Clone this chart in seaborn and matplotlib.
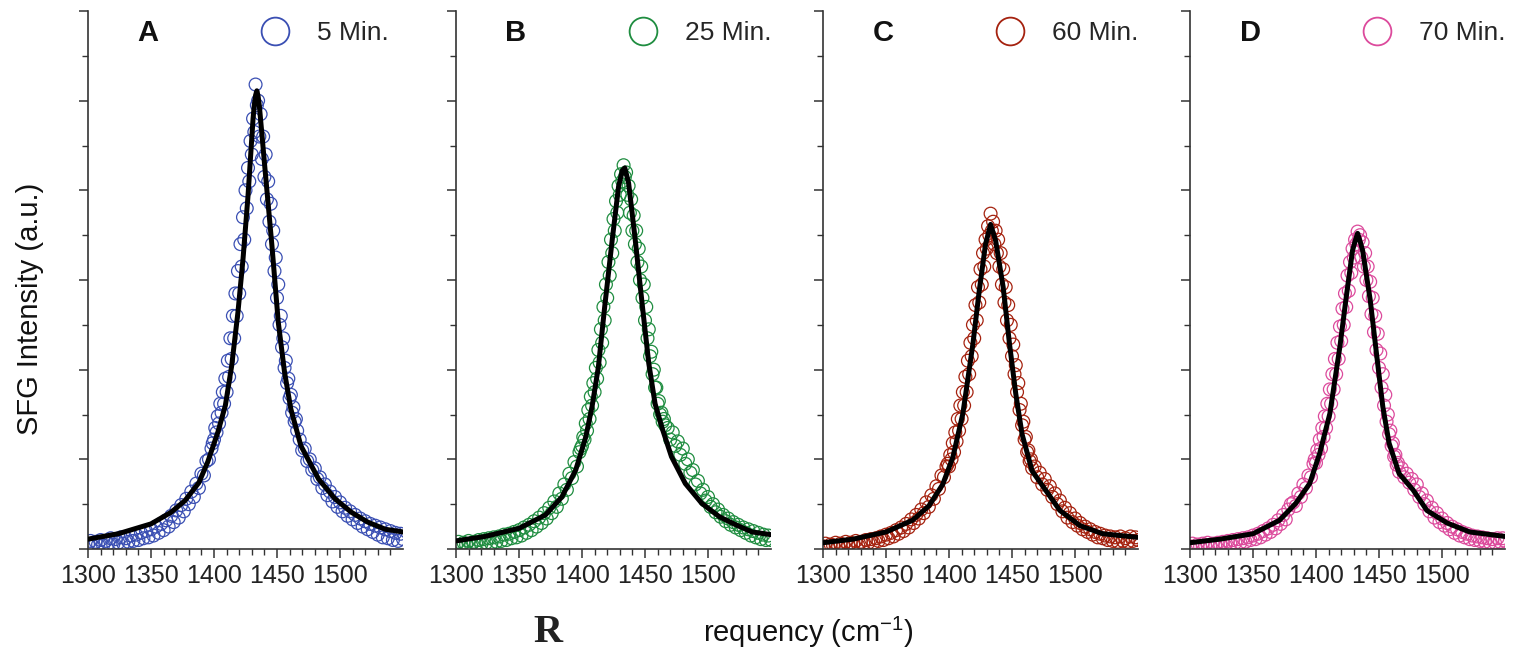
import matplotlib.pyplot as plt
from matplotlib.lines import Line2D
from matplotlib.ticker import FixedLocator, MultipleLocator
import seaborn as sns

# measured points: wavenumber (cm-1), shared by all four spectra
freq = [1300, 1302, 1304, 1306, 1308, 1310, 1312, 1314, 1316, 1318,
        1320, 1322, 1324, 1326, 1328, 1330, 1332, 1334, 1336, 1338,
        1340, 1342, 1344, 1346, 1348, 1350, 1352, 1354, 1356, 1358,
        1360, 1362, 1364, 1366, 1368, 1370, 1372, 1374, 1376, 1378,
        1380, 1382, 1384, 1386, 1388, 1390, 1392, 1394, 1396, 1398,
        1399, 1400, 1401, 1402, 1403, 1404, 1405, 1406, 1407, 1408,
        1409, 1410, 1411, 1412, 1413, 1414, 1415, 1416, 1417, 1418,
        1419, 1420, 1421, 1422, 1423, 1424, 1425, 1426, 1427, 1428,
        1429, 1430, 1431, 1432, 1433, 1434, 1435, 1436, 1437, 1438,
        1439, 1440, 1441, 1442, 1443, 1444, 1445, 1446, 1447, 1448,
        1449, 1450, 1451, 1452, 1453, 1454, 1455, 1456, 1457, 1458,
        1459, 1460, 1461, 1462, 1463, 1464, 1465, 1466,
        1468, 1470, 1472, 1474, 1476, 1478, 1480, 1482, 1484, 1486,
        1488, 1490, 1492, 1494, 1496, 1498, 1500, 1502, 1504, 1506,
        1508, 1510, 1512, 1514, 1516, 1518, 1520, 1522, 1524, 1526,
        1528, 1530, 1532, 1534, 1536, 1538, 1540, 1542, 1544, 1546,
        1548, 1550]

sfg_5 = [.05, .09, .03, .08, .05, .10, .04, .09, .06, .12,
         .05, .11, .07, .13, .06, .12, .08, .15, .09, .16,
         .10, .18, .12, .20, .13, .22, .15, .25, .18, .28,
         .21, .32, .25, .37, .30, .43, .35, .49, .42, .56,
         .50, .64, .58, .73, .68, .84, .82, .98, 1.00, 1.12,
         1.18, 1.22, 1.35, 1.30, 1.48, 1.40, 1.62, 1.52, 1.75, 1.62,
         1.90, 1.75, 2.10, 1.92, 2.35, 2.12, 2.60, 2.35, 2.85, 2.60,
         3.10, 2.85, 3.40, 3.15, 3.70, 3.45, 4.00, 3.80, 4.25, 4.10,
         4.55, 4.40, 4.80, 4.65, 5.18, 4.95, 5.00, 4.60, 4.85, 4.35,
         4.60, 4.15, 4.40, 3.90, 4.10, 3.65, 3.85, 3.40, 3.55, 3.10,
         3.25, 2.80, 2.95, 2.50, 2.60, 2.25, 2.35, 2.02, 2.10, 1.85,
         1.90, 1.68, 1.72, 1.52, 1.58, 1.42, 1.45, 1.32,
         1.22, 1.10, 1.12, .98, 1.00, .88, .90, .78, .80, .68,
         .72, .60, .64, .53, .58, .47, .52, .42, .46, .37,
         .42, .33, .38, .29, .34, .25, .31, .22, .28, .19,
         .26, .16, .24, .13, .22, .12, .20, .10, .18, .09,
         .17, .11]

sfg_25 = [.04, .08, .03, .07, .05, .09, .04, .08, .06, .10,
          .05, .11, .07, .12, .06, .13, .08, .14, .09, .16,
          .10, .17, .12, .19, .13, .21, .15, .24, .18, .27,
          .21, .31, .25, .35, .29, .40, .34, .46, .40, .53,
          .47, .62, .56, .72, .66, .84, .79, .97, .92, 1.08,
          1.12, 1.15, 1.25, 1.22, 1.40, 1.32, 1.55, 1.45, 1.70, 1.60,
          1.85, 1.75, 2.02, 1.90, 2.22, 2.08, 2.45, 2.30, 2.70, 2.55,
          2.95, 2.80, 3.20, 3.05, 3.45, 3.30, 3.68, 3.55, 3.88, 3.75,
          4.05, 3.95, 4.18, 4.10, 4.28, 4.15, 4.20, 3.95, 4.05, 3.75,
          3.90, 3.55, 3.72, 3.40, 3.55, 3.20, 3.35, 3.00, 3.15, 2.80,
          2.95, 2.55, 2.70, 2.35, 2.45, 2.15, 2.20, 1.95, 2.00, 1.80,
          1.80, 1.62, 1.65, 1.50, 1.52, 1.42, 1.45, 1.38,
          1.35, 1.22, 1.30, 1.15, 1.20, 1.05, 1.12, .95, 1.00, .85,
          .88, .72, .76, .62, .66, .54, .58, .47, .50, .41,
          .44, .36, .38, .31, .34, .27, .30, .24, .27, .21,
          .24, .18, .22, .15, .20, .13, .18, .11, .16, .10,
          .15, .10]

sfg_60 = [.03, .06, .02, .05, .04, .07, .03, .06, .04, .08,
          .04, .07, .05, .09, .04, .08, .06, .10, .07, .11,
          .07, .12, .09, .14, .10, .16, .12, .18, .14, .21,
          .17, .24, .20, .28, .24, .33, .29, .38, .34, .44,
          .40, .52, .47, .60, .56, .70, .67, .82, .80, .92,
          .95, .92, 1.05, 1.00, 1.18, 1.08, 1.30, 1.20, 1.45, 1.32,
          1.60, 1.45, 1.75, 1.60, 1.92, 1.75, 2.10, 1.95, 2.30, 2.15,
          2.50, 2.35, 2.72, 2.55, 2.92, 2.75, 3.12, 2.95, 3.30, 3.15,
          3.45, 3.35, 3.60, 3.50, 3.74, 3.55, 3.65, 3.40, 3.55, 3.30,
          3.45, 3.15, 3.30, 2.95, 3.12, 2.75, 2.92, 2.55, 2.72, 2.35,
          2.50, 2.15, 2.28, 1.95, 2.05, 1.75, 1.85, 1.55, 1.62, 1.38,
          1.42, 1.22, 1.25, 1.08, 1.10, .98, 1.00, .90,
          .92, .80, .85, .72, .78, .66, .70, .58, .62, .50,
          .54, .42, .46, .35, .40, .30, .34, .26, .29, .22,
          .25, .19, .22, .16, .19, .13, .17, .12, .15, .10,
          .14, .09, .13, .08, .14, .09, .12, .08, .14, .09,
          .13, .10]

sfg_70 = [.03, .06, .02, .05, .03, .06, .04, .07, .03, .06,
          .04, .07, .05, .08, .04, .09, .06, .10, .07, .11,
          .07, .12, .08, .13, .10, .15, .11, .17, .13, .20,
          .16, .23, .19, .27, .23, .32, .28, .38, .33, .44,
          .50, .52, .48, .62, .58, .72, .68, .82, .80, .95,
          1.00, .96, 1.10, 1.05, 1.22, 1.12, 1.35, 1.25, 1.48, 1.35,
          1.62, 1.48, 1.78, 1.62, 1.95, 1.78, 2.12, 1.95, 2.30, 2.12,
          2.48, 2.32, 2.68, 2.50, 2.85, 2.70, 3.05, 2.88, 3.20, 3.08,
          3.35, 3.25, 3.45, 3.40, 3.54, 3.45, 3.50, 3.25, 3.42, 3.15,
          3.30, 3.00, 3.15, 2.82, 2.98, 2.62, 2.80, 2.42, 2.60, 2.22,
          2.40, 2.02, 2.18, 1.80, 1.95, 1.60, 1.72, 1.42, 1.50, 1.28,
          1.32, 1.15, 1.18, 1.03, 1.05, .94, .96, .86,
          .90, .80, .84, .74, .78, .66, .72, .58, .62, .50,
          .54, .42, .46, .35, .40, .30, .34, .26, .29, .22,
          .25, .18, .22, .15, .19, .13, .17, .11, .15, .10,
          .14, .09, .13, .08, .12, .07, .11, .07, .12, .08,
          .12, .09]

# fitted curves (black lines)
fit_5_x = [1300, 1324, 1350, 1366, 1377, 1388, 1395, 1403, 1409, 1414, 1419, 1423, 1427,
           1429, 1431, 1432, 1433, 1434, 1435, 1436, 1438, 1440, 1446, 1451, 1456, 1461,
           1469, 1483, 1496, 1509, 1522, 1536, 1550]
fit_5_y = [.11, .17, .28, .41, .54, .74, .97, 1.30, 1.60, 2.04, 2.64, 3.23, 3.94,
           4.37, 4.80, 4.95, 5.06, 5.11, 5.05, 4.94, 4.63, 4.31, 3.38, 2.53, 1.97, 1.56,
           1.15, .78, .56, .41, .30, .22, .19]

fit_25_x = [1300, 1323, 1350, 1371, 1384, 1395, 1403, 1408, 1413, 1418, 1424, 1429, 1432,
            1434, 1437, 1442, 1448, 1453, 1458, 1464, 1471, 1482, 1495, 1509, 1522, 1535, 1550]
fit_25_y = [.09, .14, .23, .38, .58, .88, 1.25, 1.59, 2.03, 2.70, 3.45, 4.04, 4.22,
            4.25, 4.08, 3.48, 2.70, 2.07, 1.62, 1.33, 1.03, .73, .51, .36, .27, .19, .16]

fit_60_x = [1300, 1324, 1350, 1371, 1384, 1395, 1403, 1411, 1419, 1424, 1429, 1431, 1433,
            1435, 1437, 1443, 1448, 1453, 1458, 1466, 1477, 1488, 1504, 1522, 1550]
fit_60_y = [.07, .11, .19, .32, .48, .72, 1.02, 1.51, 2.29, 2.88, 3.40, 3.51, 3.62,
            3.53, 3.44, 2.92, 2.29, 1.73, 1.28, .87, .65, .43, .26, .17, .13]

fit_70_x = [1300, 1324, 1350, 1371, 1384, 1395, 1403, 1411, 1419, 1424, 1429, 1431, 1433,
            1435, 1437, 1443, 1448, 1453, 1458, 1466, 1477, 1488, 1504, 1522, 1550]
fit_70_y = [.07, .11, .17, .32, .51, .73, 1.07, 1.51, 2.26, 2.81, 3.33, 3.43, 3.52,
            3.43, 3.33, 2.78, 2.18, 1.59, 1.18, .84, .66, .43, .29, .19, .14]

letters = ["A", "B", "C", "D"]
times = ["5 Min.", "25 Min.", "60 Min.", "70 Min."]
colors = ["#3a4fb3", "#1f8d40", "#a5220f", "#dc4a9c"]
data = [sfg_5, sfg_25, sfg_60, sfg_70]
fits = [(fit_5_x, fit_5_y), (fit_25_x, fit_25_y), (fit_60_x, fit_60_y), (fit_70_x, fit_70_y)]

sns.set_style("ticks")
plt.rcParams['font.family'] = ['Liberation Sans', 'DejaVu Sans']
plt.rcParams['mathtext.fontset'] = 'custom'
plt.rcParams['mathtext.rm'] = 'Liberation Sans'
plt.rcParams['mathtext.it'] = 'Liberation Sans:italic'

W, H = 1527, 651
fig = plt.figure(figsize=(W / 100, H / 100), dpi=100)

lefts = [88, 456, 823, 1190]
minor_x = [v for v in range(1310, 1550, 10) if v % 50 != 0 or v > 1500]

for left, letter, t, c, vals, (fx, fy) in zip(lefts, letters, times, colors, data, fits):
    ax = fig.add_axes([left / W, 102 / H, 315 / W, 538 / H])
    sns.scatterplot(x=freq, y=vals, ax=ax, s=85, marker='o', facecolor='none',
                    edgecolor=c, linewidth=0.9, legend=False, zorder=2)
    sns.lineplot(x=fx, y=fy, ax=ax, color='black', linewidth=3.6, zorder=3)

    ax.set_xlim(1300, 1550)
    ax.set_ylim(0, 6)
    ax.xaxis.set_major_locator(FixedLocator([1300, 1350, 1400, 1450, 1500]))
    ax.xaxis.set_minor_locator(FixedLocator(minor_x))
    ax.yaxis.set_major_locator(MultipleLocator(1))
    ax.yaxis.set_minor_locator(MultipleLocator(0.5))
    ax.tick_params(labelleft=False)
    ax.tick_params(axis='x', labelsize=18, pad=4.5, colors='#222222')
    ax.tick_params(which='major', length=6.5, width=1.1, direction='out', color='#333333')
    ax.tick_params(which='minor', length=4.5, width=1.0, direction='out', color='#333333')
    ax.set_xlabel('')
    ax.set_ylabel('')
    for side in ['top', 'right']:
        ax.spines[side].set_visible(False)
    for side in ['left', 'bottom']:
        ax.spines[side].set_color('#333333')
        ax.spines[side].set_linewidth(1.2)

    ax.text(60 / 315, 0.959, letter, transform=ax.transAxes, fontsize=21,
            fontweight='bold', ha='center', va='center', color='#111111')
    handle = Line2D([], [], marker='o', ls='', mfc='none', mec=c, ms=20, mew=1.3)
    ax.legend([handle], [t], loc='center left', bbox_to_anchor=(174 / 315, 0.959),
              frameon=False, fontsize=19, handlelength=1.0, handletextpad=1.1,
              borderpad=0, borderaxespad=0)

fig.text(30 / W, 1 - 309 / H, 'SFG Intensity (a.u.)', rotation=90, fontsize=21,
         ha='center', va='center', color='#111111')
fig.text(548 / W, 1 - 632 / H, 'R', family='Liberation Serif', fontweight='bold',
         fontsize=29, color='#222222', ha='center', va='center')
fig.text(808 / W, 1 - 632 / H, r'requency (cm$^{-1}$)', fontsize=21,
         ha='center', va='center', color='#111111')

fig.savefig('out.png', dpi=100)
